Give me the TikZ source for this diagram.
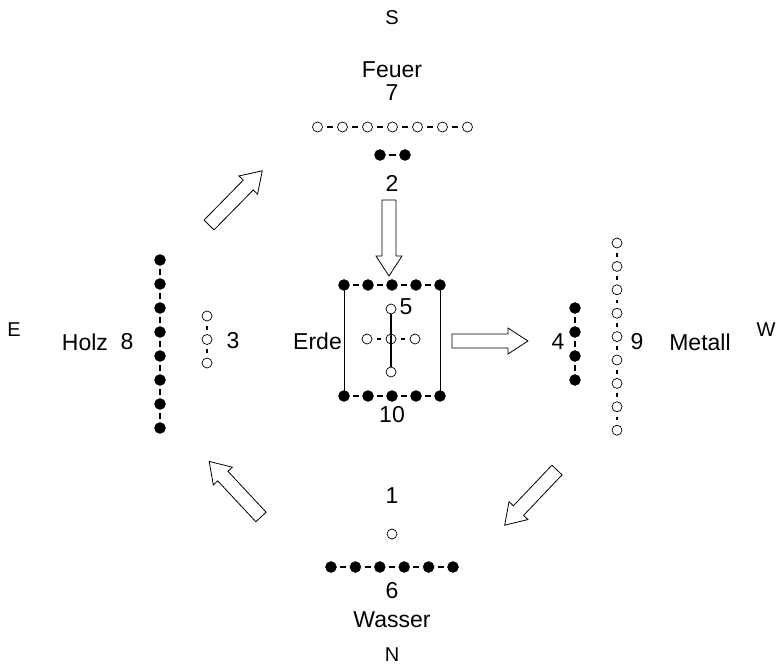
\documentclass[tikz,border=0pt]{standalone}
\usepackage{fontspec}
\setmainfont{Liberation Sans}
\usetikzlibrary{calc}
\begin{document}
\begin{tikzpicture}[x=1pt,y=-1pt,
  lbl/.style={inner sep=0pt,font=\fontsize{23}{25}\selectfont},
  dir/.style={inner sep=0pt,font=\fontsize{20}{22}\selectfont},
  fdot/.style={circle,fill=black,draw=black,inner sep=0pt,minimum size=11pt},
  odot/.style={circle,draw=black,line width=0.7pt,inner sep=0pt,minimum size=10pt},
  fdash/.style={line width=1.6pt,shorten <=3.5pt,shorten >=3.5pt},
  odash/.style={line width=1.4pt,shorten <=4.5pt,shorten >=4.5pt},
  frame/.style={line width=0.8pt},
  axis/.style={line width=1.6pt},
  pics/blockarr/.style={code={
    \draw[line width=0.8pt,fill=white,line join=miter]
      (0pt,7pt) -- (56pt,7pt) -- (56pt,13pt) -- (76pt,0pt) -- (56pt,-13pt)
      -- (56pt,-7pt) -- (0pt,-7pt) -- cycle;}}]
\useasboundingbox (0,0) rectangle (779,668);

% compass
\node[dir] (S) at (392,18) {S};
\node[dir] (N) at (392,655) {N};
\node[dir] (E) at (14,330) {E};
\node[dir] (W) at (766,330) {W};

% south: fire 7 / 2
\node[lbl] (feuer) at (392,70) {Feuer};
\node[lbl] (n7) at (392,93) {7};
\foreach \i in {0,...,6} \node[odot] (s\i) at ({317.5+25*\i},127) {};
\foreach \i [evaluate=\i as \j using int(\i+1)] in {0,...,5} \draw[odash] (s\i) -- (s\j);
\node[fdot] (t0) at (380,155) {};
\node[fdot] (t1) at (405,155) {};
\draw[fdash] (t0) -- (t1);
\node[lbl] (n2) at (392,183) {2};

% centre: earth 5 / 10
\foreach \i in {0,...,4} {
  \node[fdot] (ct\i) at ({344+24*\i},285) {};
  \node[fdot] (cb\i) at ({344+24*\i},396) {};
}
\foreach \i [evaluate=\i as \j using int(\i+1)] in {0,...,3} {
  \draw[fdash] (ct\i) -- (ct\j);
  \draw[fdash] (cb\i) -- (cb\j);
}
\draw[frame] (ct0.center) -- (cb0.center);
\draw[frame] (ct4.center) -- (cb4.center);
\node[odot] (m0) at (391,309) {};
\node[odot] (ml) at (367,339) {};
\node[odot] (mc) at (391,339) {};
\node[odot] (mr) at (415,339) {};
\node[odot] (m1) at (391,372) {};
\draw[axis] (m0) -- (m1);
\draw[odash] (ml) -- (mc);
\draw[odash] (mc) -- (mr);
\node[lbl] (n5) at (406,307) {5};
\node[lbl,anchor=east] (erde) at (342,341) {Erde};
\node[lbl] (n10) at (392,415) {10};

% west: metal 4 / 9
\node[lbl] (n4) at (558,342) {4};
\foreach \i in {0,...,3} \node[fdot] (w\i) at (575,{308+24*\i}) {};
\foreach \i [evaluate=\i as \j using int(\i+1)] in {0,...,2} \draw[fdash] (w\i) -- (w\j);
\foreach \i in {0,...,8} \node[odot] (v\i) at (617,{243+23.4*\i}) {};
\foreach \i [evaluate=\i as \j using int(\i+1)] in {0,...,7} \draw[odash] (v\i) -- (v\j);
\node[lbl] (n9) at (637,342) {9};
\node[lbl] (metall) at (700,342) {Metall};

% east: wood 3 / 8
\node[lbl] (holz) at (85,342) {Holz};
\node[lbl] (n8) at (127,342) {8};
\foreach \i in {0,...,7} \node[fdot] (e\i) at (160,{260+24*\i}) {};
\foreach \i [evaluate=\i as \j using int(\i+1)] in {0,...,6} \draw[fdash] (e\i) -- (e\j);
\foreach \i in {0,1,2} \node[odot] (d\i) at (207,{316+23.5*\i}) {};
\draw[odash] (d0) -- (d1);
\draw[odash] (d1) -- (d2);
\node[lbl] (n3) at (233,341) {3};

% north: water 1 / 6
\node[lbl] (n1) at (392,496) {1};
\node[odot] (b0) at (392,534) {};
\foreach \i in {0,...,5} \node[fdot] (q\i) at ({331+24.4*\i},567) {};
\foreach \i [evaluate=\i as \j using int(\i+1)] in {0,...,4} \draw[fdash] (q\i) -- (q\j);
\node[lbl] (n6) at (392,591) {6};
\node[lbl] (wasser) at (392,620) {Wasser};

% block arrows
\coordinate (a1) at (389,200);
\coordinate (a2) at (452,341);
\coordinate (a3) at (557,470);
\coordinate (a4) at (261,517);
\coordinate (a5) at (209,225);
\pic[rotate=-90] at (a1) {blockarr};
\pic[rotate=0] at (a2) {blockarr};
\pic[rotate=226.5] at (a3) {blockarr};
\pic[rotate=133] at (a4) {blockarr};
\pic[rotate=45.5] at (a5) {blockarr};
\end{tikzpicture}
\end{document}
